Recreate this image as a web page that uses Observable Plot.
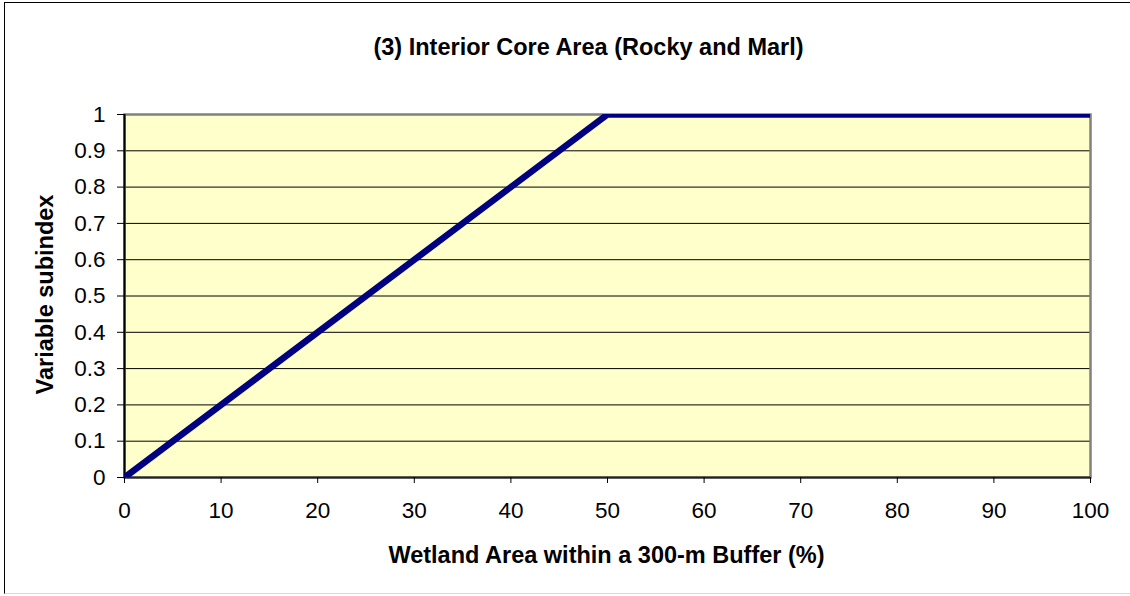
<!DOCTYPE html>
<html>
<head>
<meta charset="utf-8">
<script src="https://cdn.jsdelivr.net/npm/d3@7"></script>
<script src="https://cdn.jsdelivr.net/npm/@observablehq/plot@0.6"></script>
<style>
  html, body { margin: 0; padding: 0; background: #fff; }
  #wrap { position: relative; width: 1130px; height: 596px; overflow: hidden; }
  #border { position: absolute; left: 4px; top: 2px; width: 1200px; height: 592px;
            border-left: 1.5px solid #000; border-top: 1.5px solid #000; border-bottom: 1px solid #d8d8d8; box-sizing: border-box; pointer-events: none; }
</style>
</head>
<body>
<div id="wrap"><div id="border"></div></div>
<script>
const title = "(3) Interior Core Area (Rocky and Marl)";
const xTitle = "Wetland Area within a 300-m Buffer (%)";
const yTitle = "Variable subindex";
const wetlandPct = [0, 50, 100];
const subindex = [0, 1, 1];
const xTicks = [0, 10, 20, 30, 40, 50, 60, 70, 80, 90, 100];
const yTicks = [0, 0.1, 0.2, 0.3, 0.4, 0.5, 0.6, 0.7, 0.8, 0.9, 1];
const yTickLabels = ["0", "0.1", "0.2", "0.3", "0.4", "0.5", "0.6", "0.7", "0.8", "0.9", "1"];

const data = wetlandPct.map((x, i) => ({x, y: subindex[i]}));
const gridVals = yTicks.filter(v => v > 0 && v < 1);

const chart = Plot.plot({
  width: 1130,
  height: 596,
  marginLeft: 124,
  marginRight: 40,
  marginTop: 114,
  marginBottom: 119,
  style: {fontFamily: "'Liberation Sans', Arial, sans-serif", fontSize: "22.5px", color: "#000", background: "transparent"},
  x: {domain: [0, 100]},
  y: {domain: [0, 1]},
  marks: [
    Plot.frame({fill: "#FFFFCC", stroke: null}),
    Plot.ruleY(gridVals, {stroke: "#000", strokeWidth: 1}),
    Plot.frame({fill: "none", stroke: "#808080", strokeWidth: 2.5}),
    Plot.ruleX([0], {stroke: "#000", strokeWidth: 2}),
    Plot.ruleY([0], {stroke: "#222", strokeWidth: 2}),
    Plot.axisY({ticks: yTicks, tickSize: 7, tickPadding: 12, tickFormat: (d, i) => yTickLabels[i], label: null, stroke: "#000"}),
    Plot.axisX({ticks: xTicks, tickSize: 6, tickPadding: 19, tickFormat: d => String(d), label: null, stroke: "#000"}),
    Plot.line(data, {x: "x", y: "y", stroke: "#000080", strokeWidth: 6.5, strokeLinejoin: "miter", strokeLinecap: "butt", clip: "frame"}),
    Plot.text([title], {text: d => d, frameAnchor: "top", dx: -19, dy: -67, lineAnchor: "middle", textAnchor: "middle", fontSize: 23.5, fontWeight: "bold", fill: "#000"}),
    Plot.text([xTitle], {text: d => d, frameAnchor: "bottom", dx: -1, dy: 78, lineAnchor: "middle", textAnchor: "middle", fontSize: 23.5, fontWeight: "bold", fill: "#000"}),
    Plot.text([yTitle], {text: d => d, frameAnchor: "left", dx: -79, dy: -1.5, rotate: -90, lineAnchor: "middle", textAnchor: "middle", fontSize: 23.5, fontWeight: "bold", fill: "#000"})
  ]
});
chart.style.position = "absolute";
chart.style.left = "0";
chart.style.top = "0";
document.getElementById("wrap").appendChild(chart);
</script>
</body>
</html>
